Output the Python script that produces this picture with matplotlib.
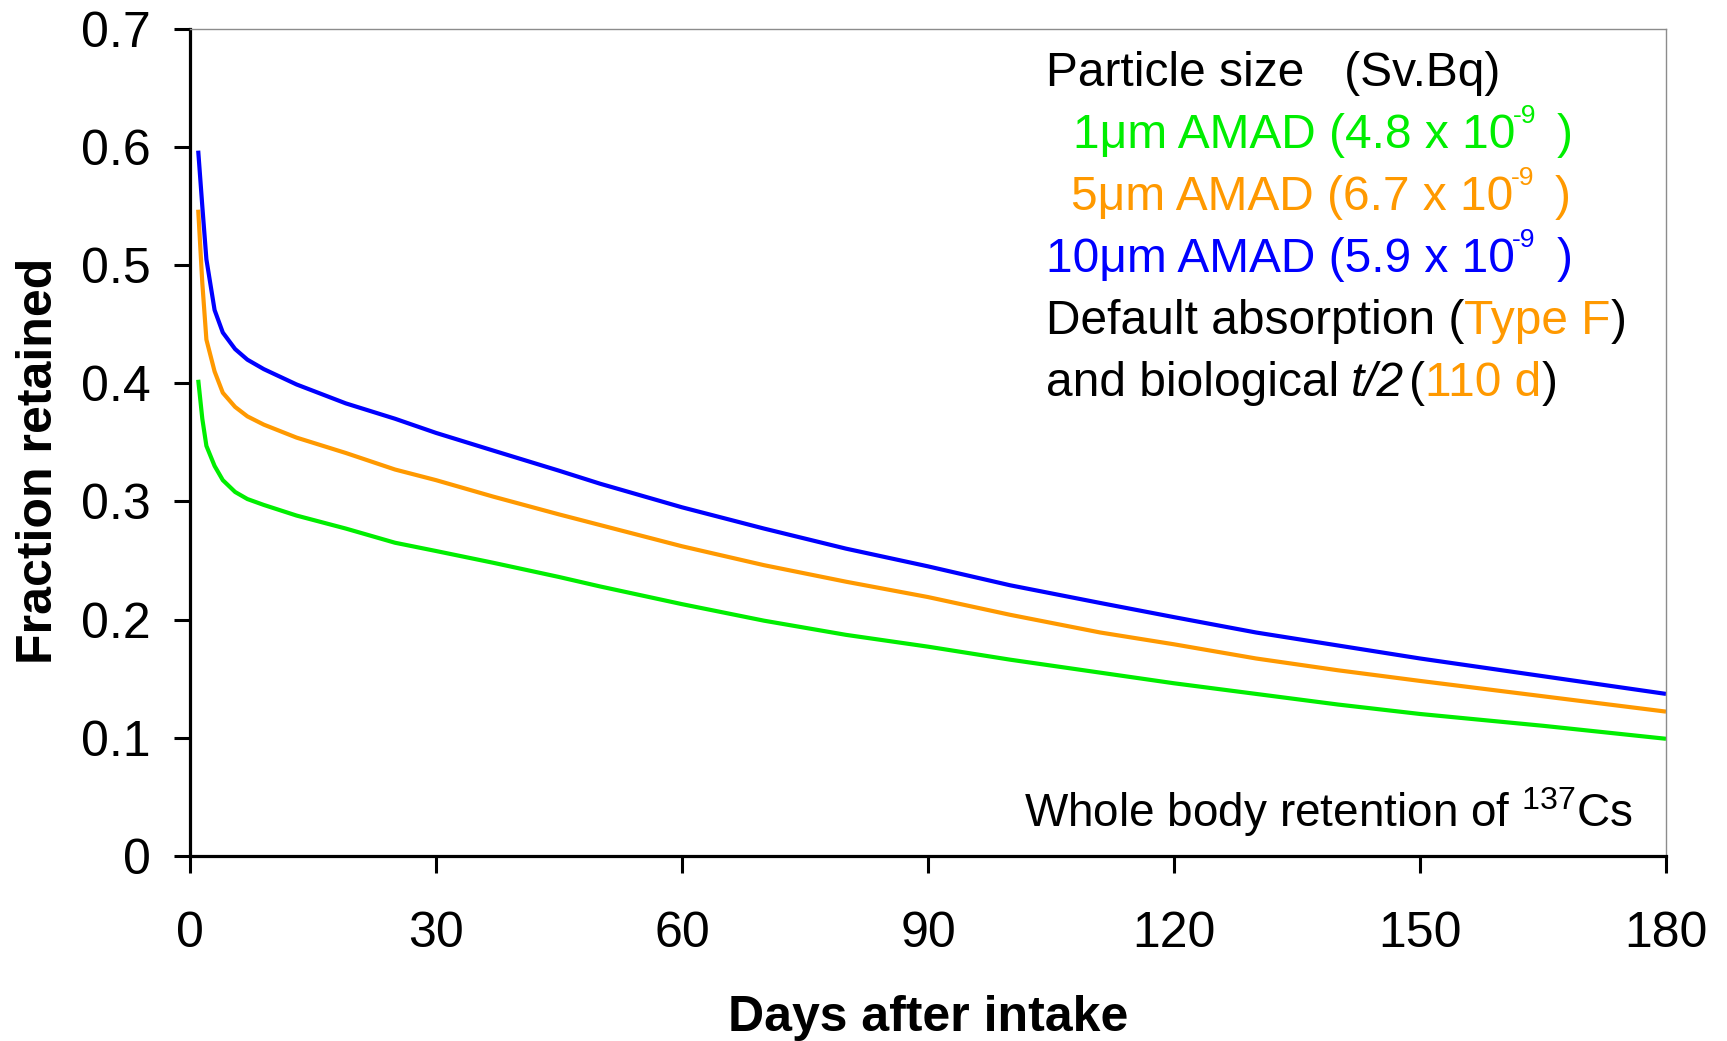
import numpy as np
import matplotlib
matplotlib.use("Agg")
import matplotlib.pyplot as plt

# =========================
# DATA
# =========================

days = [1, 1.5, 2, 3, 4, 5.5, 7, 9, 13, 19, 25, 30, 37, 45, 50, 60, 70, 80, 90, 100,
        111, 120, 130, 140, 150, 165, 180]

frac_1um = [0.403, 0.370, 0.347, 0.330, 0.318, 0.308, 0.302, 0.297, 0.288, 0.277, 0.265,
            0.258, 0.248, 0.236, 0.228, 0.213, 0.199, 0.187, 0.177, 0.166,
            0.155, 0.146, 0.137, 0.128, 0.120, 0.110, 0.099]
frac_5um = [0.547, 0.485, 0.437, 0.410, 0.392, 0.380, 0.372, 0.365, 0.354, 0.341, 0.327,
            0.318, 0.304, 0.289, 0.280, 0.262, 0.246, 0.232, 0.219, 0.204,
            0.189, 0.179, 0.167, 0.157, 0.148, 0.135, 0.122]
frac_10um = [0.597, 0.550, 0.505, 0.462, 0.443, 0.429, 0.420, 0.412, 0.399, 0.383, 0.370,
             0.358, 0.343, 0.326, 0.315, 0.295, 0.277, 0.260, 0.245, 0.229,
             0.214, 0.202, 0.189, 0.178, 0.167, 0.152, 0.137]

xticks = [0, 30, 60, 90, 120, 150, 180]
yticks = [0, 0.1, 0.2, 0.3, 0.4, 0.5, 0.6, 0.7]
ytick_labels = ["0", "0.1", "0.2", "0.3", "0.4", "0.5", "0.6", "0.7"]

GREEN = "#00ee00"
ORANGE = "#ff9900"
BLUE = "#0000ff"

# =========================
# STYLE
# =========================

plt.rcParams["font.family"] = ["Liberation Sans", "DejaVu Sans"]
plt.rcParams["mathtext.fontset"] = "custom"
plt.rcParams["mathtext.rm"] = "Liberation Sans"
plt.rcParams["mathtext.it"] = "Liberation Sans:italic"
plt.rcParams["mathtext.bf"] = "Liberation Sans:bold"

W, H = 1727, 1041
fig = plt.figure(figsize=(W / 100, H / 100), dpi=100)
ax = fig.add_axes([190 / W, 1 - 855.7 / H, (1666 - 190) / W, (855.7 - 29) / H])

ax.plot(days, frac_1um, color=GREEN, lw=3.0, solid_capstyle="butt")
ax.plot(days, frac_5um, color=ORANGE, lw=3.0, solid_capstyle="butt")
ax.plot(days, frac_10um, color=BLUE, lw=3.0, solid_capstyle="butt")

ax.set_xlim(0, 180)
ax.set_ylim(0, 0.7)
ax.set_xticks(xticks)
ax.set_yticks(yticks)
ax.set_yticklabels(ytick_labels)

for s in ["left", "bottom"]:
    ax.spines[s].set_linewidth(2.3)
    ax.spines[s].set_color("black")
for s in ["top", "right"]:
    ax.spines[s].set_linewidth(1.0)
    ax.spines[s].set_color("#8c8c8c")

ax.tick_params(axis="y", direction="out", length=11.5, width=2.2, pad=16.5,
               labelsize=36, right=False)
ax.tick_params(axis="x", direction="out", length=12, width=2.2, pad=28,
               labelsize=36, top=False)

fig.text(39 / W, 1 - 461 / H, "Fraction retained", rotation=90, fontsize=36,
         fontweight="bold", ha="center", va="center")
fig.text(928 / W, 1 - 1018 / H, "Days after intake", fontsize=36,
         fontweight="bold", ha="center", va="center")

# =========================
# ANNOTATIONS
# =========================

LEG_SIZE = 34.5
SUP_SIZE = 19


def multicolor_text(x, y, pieces, size=LEG_SIZE):
    """pieces: list of (text, color, fontsize, style, gap_pt, rise_pt)"""
    txt, col, fs, sty, _, _ = pieces[0]
    first = fig.text(x / W, 1 - y / H, txt, color=col, fontsize=fs or size,
                     style=sty, va="baseline", ha="left")
    prev = first
    for txt, col, fs, sty, gap, rise in pieces[1:]:
        prev = ax.annotate(txt, xy=(1, 0), xycoords=(prev, first),
                           xytext=(gap, rise), textcoords="offset points",
                           va="bottom", ha="left", color=col,
                           fontsize=fs or size, style=sty)
    return prev


def amad_line(x, y, label, value, col):
    # "10" followed by a small raised "-9"
    rise = 18 + 0.21 * (LEG_SIZE - SUP_SIZE)
    multicolor_text(x, y, [(f"{label} ({value} x 10", col, None, "normal", 0, 0),
                           ("-9", col, SUP_SIZE, "normal", -2, rise),
                           (")", col, None, "normal", 15, 0)])


multicolor_text(1046, 86, [("Particle size   (Sv.Bq)", "black", None, "normal", 0, 0)])
amad_line(1073, 148, "1μm AMAD", "4.8", GREEN)
amad_line(1071, 210, "5μm AMAD", "6.7", ORANGE)
amad_line(1046, 272, "10μm AMAD", "5.9", BLUE)
multicolor_text(1046, 334, [("Default absorption (", "black", None, "normal", 0, 0),
                            ("Type F", ORANGE, None, "normal", 0, 0),
                            (")", "black", None, "normal", 0, 0)])
multicolor_text(1046, 396, [("and biological", "black", None, "normal", 0, 0),
                            ("t/2", "black", None, "italic", 8, 0),
                            ("(", "black", None, "normal", 4, 0),
                            ("110 d", ORANGE, None, "normal", 0, 0),
                            (")", "black", None, "normal", 0, 0)])
multicolor_text(1024, 827, [(r"Whole body retention of $^{137}$Cs", "black", 33, "normal", 0, 0)])

fig.savefig("out.png", dpi=100)
